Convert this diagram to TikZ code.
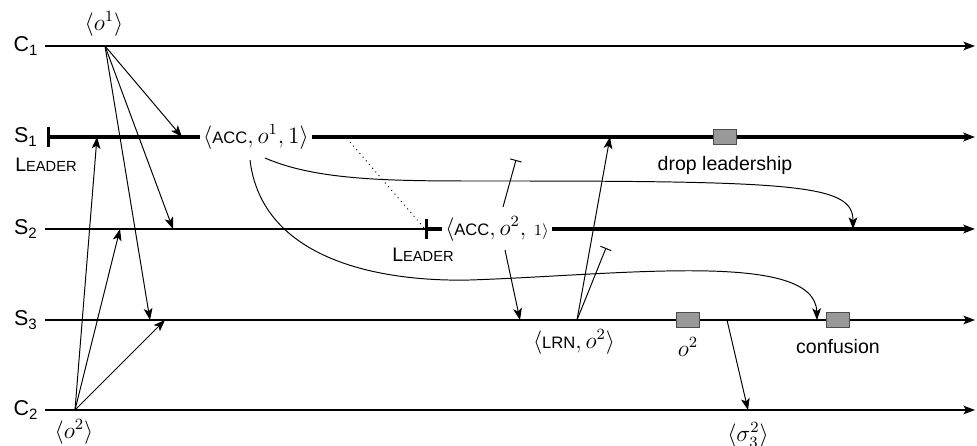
\documentclass[tikz,border=0pt]{standalone}
\usepackage{fontspec}
\setsansfont{Liberation Sans}
\usetikzlibrary{arrows.meta}
\newcommand{\ldrtext}{{\sffamily\fontsize{10}{12}\selectfont L\fontsize{7.5}{9}\selectfont EADER}}
\newcommand{\msgtag}[1]{\mbox{\sffamily\fontsize{8.5}{10}\selectfont #1}}
\begin{document}
\begin{tikzpicture}[>={Stealth[length=6pt,width=4.5pt,inset=1.5pt]}, x=0.018cm, y=-0.018cm,
  font=\fontsize{12}{14}\selectfont,
  lane/.style={line width=0.6pt},
  leadlane/.style={line width=1.7pt},
  msg/.style={->, line width=0.5pt},
  blocked/.style={-{Bar[width=6pt]}, line width=0.5pt},
  event/.style={draw=black!70, fill=black!40, minimum width=11.5pt, minimum height=8pt, inner sep=0pt},
  pname/.style={font=\sffamily\fontsize{11}{13}\selectfont},
  tag/.style={fill=white, inner sep=1.5pt}]
  \useasboundingbox (0,0) rectangle (977,446);
  % process names
  \node[pname] (c1) at (26,46) {C\textsubscript{1}};
  \node[pname] (s1) at (26,137) {S\textsubscript{1}};
  \node[pname] (s2) at (26,229) {S\textsubscript{2}};
  \node[pname] (s3) at (26,320) {S\textsubscript{3}};
  \node[pname] (c2) at (26,410) {C\textsubscript{2}};
  % lanes
  \coordinate (c1a) at (45,46);   \coordinate (c1b) at (975,46);
  \coordinate (s1a) at (47,137);  \coordinate (s1b) at (975,137);
  \coordinate (s2a) at (45,229);  \coordinate (ld2) at (425,229);  \coordinate (s2b) at (975,229);
  \coordinate (s3a) at (45,320);  \coordinate (s3b) at (975,320);
  \coordinate (c2a) at (45,410);  \coordinate (c2b) at (975,410);
  \draw[lane, ->] (c1a) -- (c1b);
  \draw[leadlane, {Bar[width=10pt]}->] (s1a) -- (s1b);
  \draw[lane] (s2a) -- (ld2);
  \draw[leadlane, {Bar[width=10pt]}->] (ld2) -- (s2b);
  \draw[lane, ->] (s3a) -- (s3b);
  \draw[lane, ->] (c2a) -- (c2b);
  \node (ldr1) at (46,165) {\ldrtext};
  \node (ldr2) at (423,255) {\ldrtext};
  % requests of the clients
  \node (o1) at (104,24) {$\langle o^1\rangle$};
  \node (o2) at (74,432) {$\langle o^2\rangle$};
  \coordinate (m1) at (105,46);
  \coordinate (m2) at (75,410);
  \coordinate (r11) at (182,137);
  \coordinate (r12) at (173,229);
  \coordinate (r13) at (150,320);
  \coordinate (r21) at (97,137);
  \coordinate (r22) at (120,229);
  \coordinate (r23) at (165,320);
  \foreach \i in {1,2,3} {
    \draw[msg] (m1) -- (r1\i);
    \draw[msg] (m2) -- (r2\i);
  }
  % accepts
  \node[tag] (acc1) at (256,137) {$\langle\msgtag{ACC},o^1,1\rangle$};
  \node[tag] (acc2) at (497,229) {$\langle\msgtag{ACC},o^2,\ \scriptstyle 1\rangle$};
  \coordinate (dt) at (350,142);
  \draw[dotted, line width=0.5pt] (dt) -- (ld2);
  \coordinate (k1) at (265,158);
  \coordinate (k2) at (250,160);
  \coordinate (s2q) at (853,229);
  \coordinate (s3q) at (817,320);
  \draw[msg] (k1) .. controls (320,182) and (400,181) .. (500,181)
    .. controls (800,181) and (853,185) .. (s2q);
  \draw[msg] (k2) .. controls (262,260) and (380,282) .. (470,280)
    .. controls (620,275) and (815,250) .. (s3q);
  \coordinate (t1a) at (503,207);
  \coordinate (t1b) at (516,160);
  \draw[blocked] (t1a) -- (t1b);
  \coordinate (k3) at (505,250);
  \coordinate (s3p) at (520,320);
  \draw[msg] (k3) -- (s3p);
  % learn
  \node (lrn) at (574,342) {$\langle\msgtag{LRN},o^2\rangle$};
  \coordinate (s3r) at (577,320);
  \coordinate (s1r) at (610,137);
  \coordinate (t2b) at (606,248);
  \draw[msg] (s3r) -- (s1r);
  \draw[blocked] (s3r) -- (t2b);
  % events
  \node[event] (e1) at (725,137) {};
  \node[event] (e2) at (688,320) {};
  \node[event] (e3) at (838,320) {};
  \node[font=\sffamily] (e1l) at (725,165) {drop leadership};
  \node (e2l) at (688,347) {$o^2$};
  \node[font=\sffamily] (e3l) at (838,347) {confusion};
  \coordinate (s3s) at (727,320);
  \coordinate (c2s) at (748,410);
  \draw[msg] (s3s) -- (c2s);
  \node (sg) at (748,435) {$\langle\sigma_3^2\rangle$};
\end{tikzpicture}
\end{document}
